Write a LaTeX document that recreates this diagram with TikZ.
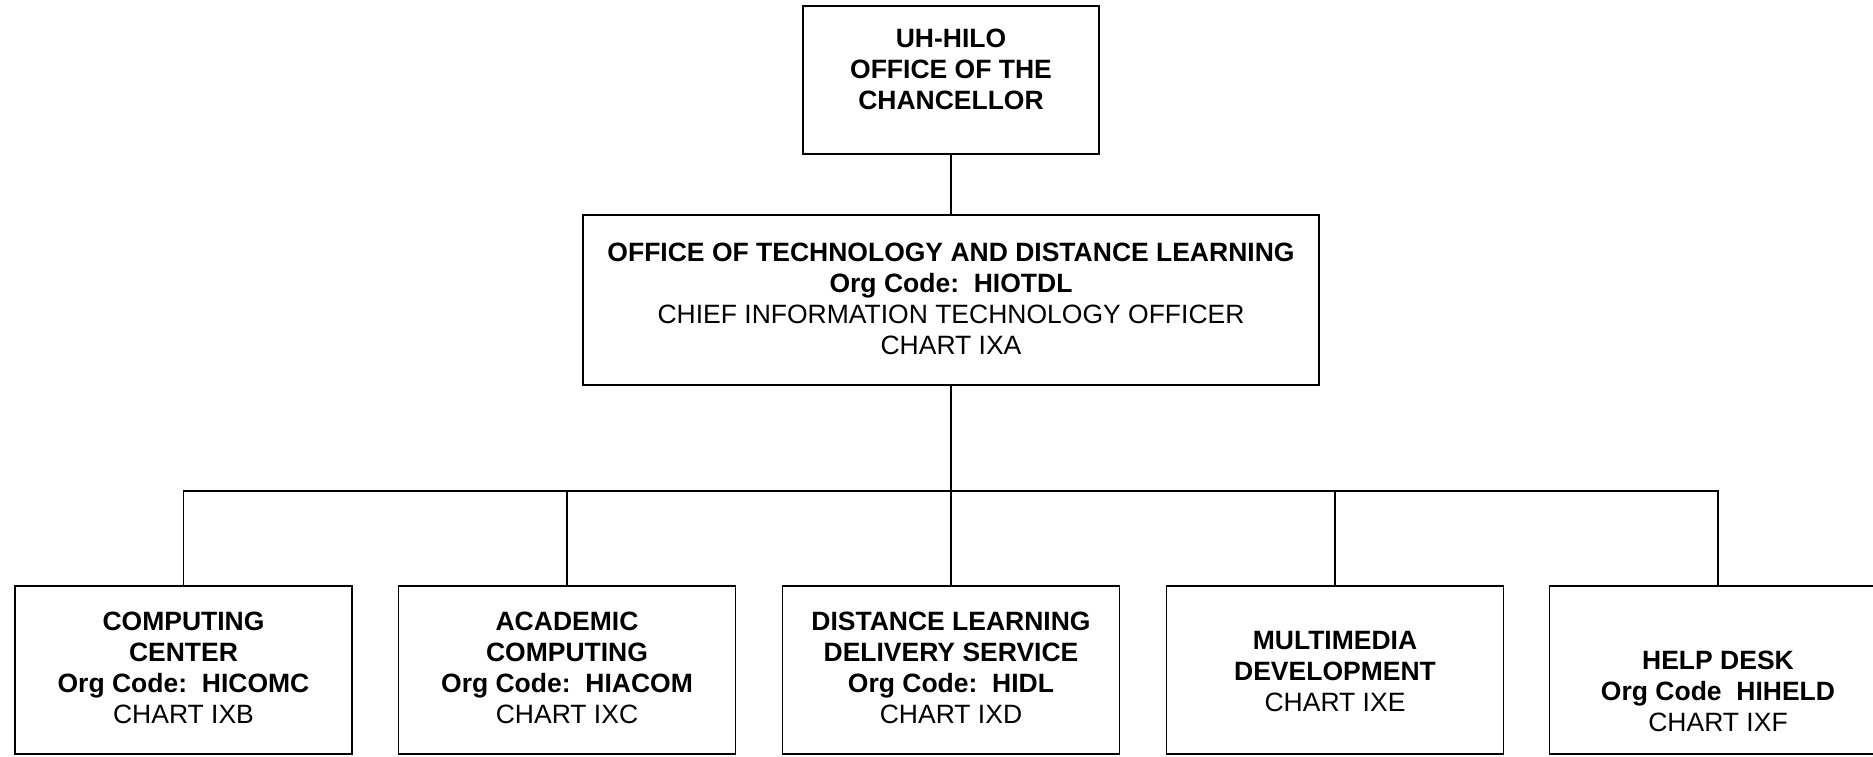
\documentclass[tikz,border=0pt]{standalone}
\usepackage{fontspec}
\setmainfont{Liberation Sans}
\newcommand\orgtext[2]{\raisebox{#1}[\height][\depth]{\begin{tabular}{@{}c@{}}#2\end{tabular}}}
\begin{document}
\begin{tikzpicture}[
  orgbox/.style={draw=black, line width=1.5pt, rectangle, inner sep=0pt, align=center,
    font=\fontsize{26.5}{31}\selectfont},
  topbox/.style={orgbox, minimum width=296pt, minimum height=148pt},
  midbox/.style={orgbox, minimum width=736pt, minimum height=170pt},
  unitbox/.style={orgbox, minimum width=337pt, minimum height=168pt},
  conn/.style={draw=black, line width=1.5pt}
]
\useasboundingbox (0pt,0pt) rectangle (1873pt,-756pt);
\clip (0pt,0pt) rectangle (1873pt,-756pt);
\fill[white] (0pt,0pt) rectangle (1873pt,-756pt);

\node[topbox] (chan) at (951pt,-80pt)
  {\orgtext{8pt}{\bfseries UH-HILO\\ \bfseries OFFICE OF THE\\ \bfseries CHANCELLOR}};
\node[midbox] (otdl) at (951pt,-300pt)
  {\orgtext{-2pt}{\bfseries OFFICE OF TECHNOLOGY AND DISTANCE LEARNING\\
   \bfseries Org Code:\ \ HIOTDL\\ CHIEF INFORMATION TECHNOLOGY OFFICER\\ CHART IXA}};

\node[unitbox] (cc) at (183.5pt,-670pt)
  {\orgtext{-1pt}{\bfseries COMPUTING\\ \bfseries CENTER\\ \bfseries Org Code:\ \ HICOMC\\ CHART IXB}};
\node[unitbox] (ac) at (567pt,-670pt)
  {\orgtext{-1pt}{\bfseries ACADEMIC\\ \bfseries COMPUTING\\ \bfseries Org Code:\ \ HIACOM\\ CHART IXC}};
\node[unitbox] (dl) at (951pt,-670pt)
  {\orgtext{-1pt}{\bfseries DISTANCE LEARNING\\ \bfseries DELIVERY SERVICE\\ \bfseries Org Code:\ \ HIDL\\ CHART IXD}};
\node[unitbox] (mm) at (1335pt,-670pt)
  {\orgtext{-4pt}{\bfseries MULTIMEDIA\\ \bfseries DEVELOPMENT\\ CHART IXE}};
\node[unitbox] (hd) at (1718pt,-670pt)
  {\orgtext{-24pt}{\bfseries HELP DESK\\ \bfseries Org Code\ \ HIHELD\\ CHART IXF}};

\coordinate (bus) at (951pt,-491pt);
\draw[conn] (chan.south) -- (otdl.north);
\draw[conn] (otdl.south) -- (dl.north);
\draw[conn] (cc.north) |- (bus) -| (hd.north);
\draw[conn] (ac.north) -- (ac.north |- bus);
\draw[conn] (mm.north) -- (mm.north |- bus);
\end{tikzpicture}
\end{document}
